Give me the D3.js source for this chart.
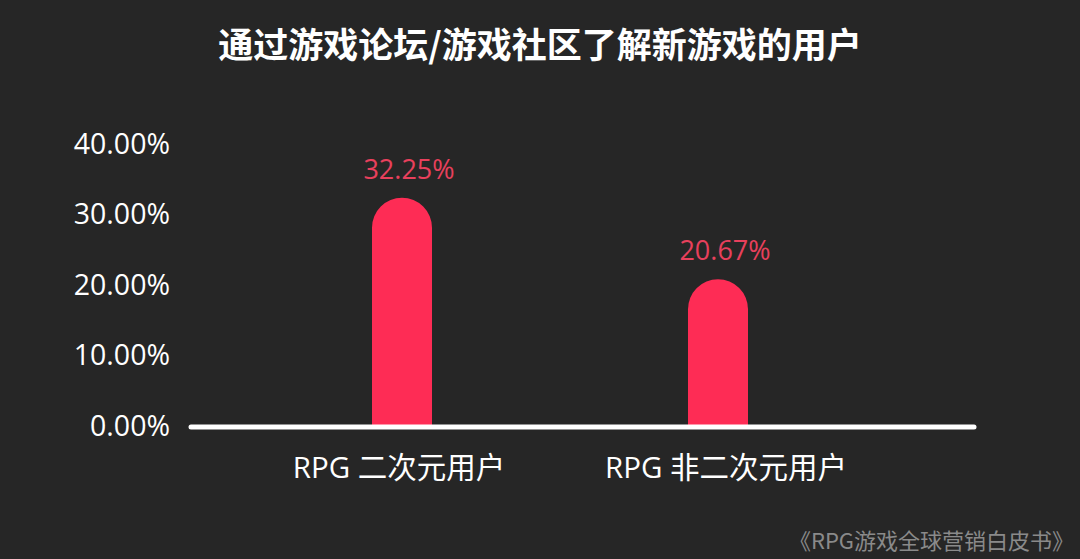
<!DOCTYPE html>
<html>
<head>
<meta charset="utf-8">
<script src="https://cdn.jsdelivr.net/npm/d3@7/dist/d3.min.js"></script>
<style>
  html, body { margin: 0; padding: 0; background: #262626; }
  svg { display: block; }
</style>
</head>
<body>
<div id="chart"></div>
<script>
var categories = ["RPG 二次元用户", "RPG 非二次元用户"];
var shares = [32.25, 20.67];
var yTicks = [0, 10, 20, 30, 40];
var titleText = "通过游戏论坛/游戏社区了解新游戏的用户";
var sourceText = "《RPG游戏全球营销白皮书》";

var width = 1080, height = 559;
var cjk = "'Noto Sans CJK SC', 'Noto Sans', sans-serif";
var latin = "'Open Sans', 'Noto Sans CJK SC', sans-serif";

var svg = d3.select("#chart").append("svg")
  .attr("width", width)
  .attr("height", height);

svg.append("rect")
  .attr("width", width)
  .attr("height", height)
  .attr("fill", "#262626");

//scales
var x = d3.scaleBand().domain(categories).range([244, 876]).padding(0);
var y = d3.scaleLinear().domain([0, 40]).range([425, 143]);
var barW = 60;

//title
svg.append("text")
  .text(titleText)
  .attr("x", width / 2)
  .attr("y", 58)
  .attr("text-anchor", "middle")
  .attr("font-family", cjk)
  .attr("font-weight", "bold")
  .attr("font-size", "35px")
  .attr("fill", "#ffffff");

//y axis labels
var yAxis = d3.axisLeft(y)
  .tickValues(yTicks)
  .tickSize(0)
  .tickPadding(0)
  .tickFormat(function (d) { return d3.format(".2f")(d) + "%"; });

var yg = svg.append("g")
  .attr("transform", "translate(170,0)")
  .call(yAxis);
yg.select(".domain").remove();
yg.selectAll("text")
  .attr("font-family", latin)
  .attr("font-size", "28.5px")
  .attr("fill", "#ffffff")
  .attr("dy", "0.36em");

//bars with rounded tops
function barPath(d, i) {
  var cx = x(categories[i]) + x.bandwidth() / 2;
  var x0 = cx - barW / 2, x1 = cx + barW / 2;
  var r = barW / 2;
  var top = y(d), bottom = y(0);
  return "M" + x0 + "," + bottom +
    "L" + x0 + "," + (top + r) +
    "A" + r + "," + r + " 0 0 1 " + x1 + "," + (top + r) +
    "L" + x1 + "," + bottom + "Z";
}

svg.selectAll("path.bar")
  .data(shares)
  .enter()
  .append("path")
  .attr("class", "bar")
  .attr("d", barPath)
  .attr("fill", "#fe2c55");

//value labels
svg.selectAll("text.value")
  .data(shares)
  .enter()
  .append("text")
  .attr("class", "value")
  .text(function (d) { return d.toFixed(2) + "%"; })
  .attr("x", function (d, i) { return x(categories[i]) + x.bandwidth() / 2 + 7; })
  .attr("y", function (d) { return y(d) - 19; })
  .attr("text-anchor", "middle")
  .attr("font-family", latin)
  .attr("font-size", "27px")
  .attr("fill", "#e8405c");

//baseline
svg.append("line")
  .attr("x1", 191)
  .attr("x2", 974)
  .attr("y1", y(0) + 2)
  .attr("y2", y(0) + 2)
  .attr("stroke", "#ffffff")
  .attr("stroke-width", 5)
  .attr("stroke-linecap", "round");

//category labels
svg.selectAll("text.cat")
  .data(categories)
  .enter()
  .append("text")
  .attr("class", "cat")
  .text(function (d) { return d; })
  .attr("x", function (d, i) { return x(d) + x.bandwidth() / 2 + (i === 0 ? -3 : 8); })
  .attr("y", 478)
  .attr("text-anchor", "middle")
  .attr("font-family", latin)
  .attr("font-size", "29.5px")
  .attr("fill", "#ffffff");

//source
svg.append("text")
  .text(sourceText)
  .attr("x", 1074)
  .attr("y", 549)
  .attr("text-anchor", "end")
  .attr("font-family", cjk)
  .attr("font-size", "22px")
  .attr("fill", "#8a8a8a");
</script>
</body>
</html>
